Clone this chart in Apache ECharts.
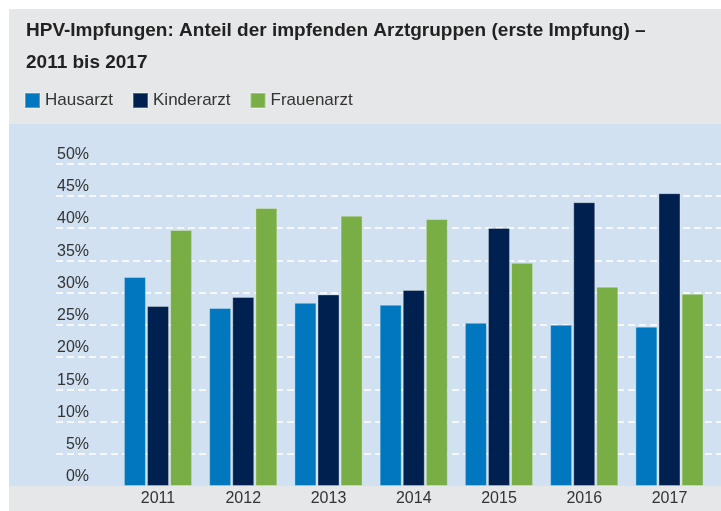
<!DOCTYPE html>
<html>
<head>
<meta charset="utf-8">
<script src="https://cdn.jsdelivr.net/npm/echarts@6/dist/echarts.min.js"></script>
<style>
html, body { margin: 0; padding: 0; background: #fff; }
#main { width: 721px; height: 511px; }
</style>
</head>
<body>
<div id="main"></div>
<script>
var years = ['2011', '2012', '2013', '2014', '2015', '2016', '2017'];
var hausarzt = [32.4, 27.6, 28.4, 28.1, 25.3, 25.0, 24.7];
var kinderarzt = [27.9, 29.3, 29.7, 30.4, 40.0, 44.0, 45.4];
var frauenarzt = [39.7, 43.1, 41.9, 41.4, 34.6, 30.9, 29.8];

var myChart = echarts.init(document.getElementById('main'));

var labelFont = 'Liberation Sans, Arial, sans-serif';

function barSeries(name, color, data) {
    return {
        name: name,
        type: 'bar',
        xAxisIndex: 1,
        yAxisIndex: 1,
        barWidth: 22,
        barGap: '5%',
        itemStyle: {
            color: color,
            borderColor: 'rgba(255,255,255,0.3)',
            borderWidth: 1
        },
        data: data
    };
}

var option = {
    animation: false,
    color: ['#0077be', '#00214f', '#79ad45'],
    graphic: [
        // grauer Rahmen
        { type: 'rect', left: 9, top: 9, shape: { width: 712, height: 502 }, style: { fill: '#e6e7e9' }, z: -10 },
        // blaue Zeichenfläche
        { type: 'rect', left: 9, top: 124, shape: { width: 712, height: 362 }, style: { fill: '#d1e1f1' }, z: -9 }
    ],
    title: {
        text: 'HPV-Impfungen: Anteil der impfenden Arztgruppen (erste Impfung) –\n2011 bis 2017',
        left: 26,
        top: 15,
        padding: 0,
        textStyle: {
            fontFamily: labelFont,
            fontSize: 19,
            fontWeight: 'bold',
            color: '#222',
            lineHeight: 32
        }
    },
    legend: {
        data: ['Hausarzt', 'Kinderarzt', 'Frauenarzt'],
        left: 24,
        top: 92,
        padding: 0,
        icon: 'rect',
        itemWidth: 15,
        itemHeight: 15,
        itemGap: 19,
        textStyle: {
            fontFamily: labelFont,
            fontSize: 17,
            color: '#333'
        }
    },
    grid: [
        { left: 56, right: 0, top: 163.5, bottom: 25 },
        { left: 115.4, right: 8.9, top: 163.5, bottom: 25 }
    ],
    xAxis: [
        { type: 'category', gridIndex: 0, data: years, show: false },
        {
            type: 'category',
            gridIndex: 1,
            data: years,
            axisLine: { show: false },
            axisTick: { show: false },
            axisLabel: {
                margin: 5,
                fontFamily: labelFont,
                fontSize: 16,
                color: '#333'
            }
        }
    ],
    yAxis: [
        {
            type: 'value',
            gridIndex: 0,
            min: 0,
            max: 50,
            interval: 5,
            axisLine: { show: false },
            axisTick: { show: false },
            axisLabel: { show: false },
            splitLine: {
                showMinLine: false,
                lineStyle: { color: '#f4f8fc', width: 2, type: [7, 4] }
            }
        },
        {
            type: 'value',
            gridIndex: 1,
            min: 0,
            max: 50,
            interval: 5,
            axisLine: { show: false },
            axisTick: { show: false },
            splitLine: { show: false },
            axisLabel: {
                margin: 26.4,
                formatter: '{value}%',
                verticalAlign: 'bottom',
                padding: [0, 0, 1, 0],
                fontFamily: labelFont,
                fontSize: 16,
                color: '#333'
            }
        }
    ],
    series: [
        barSeries('Hausarzt', '#0077be', hausarzt),
        barSeries('Kinderarzt', '#00214f', kinderarzt),
        barSeries('Frauenarzt', '#79ad45', frauenarzt)
    ]
};
myChart.setOption(option);
</script>
</body>
</html>
